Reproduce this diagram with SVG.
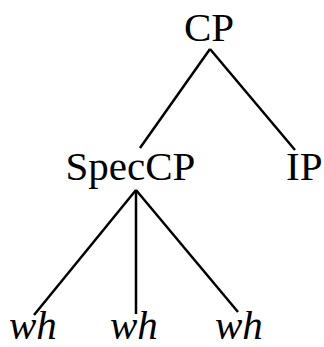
<svg xmlns="http://www.w3.org/2000/svg" width="324" height="347" viewBox="0 0 324 347">
  <style>
    .lbl { font-family: "Liberation Serif", "Times New Roman", serif; font-size: 41px; fill: #000; }
    .it { font-style: italic; }
    .edge { stroke: #000; stroke-width: 2.5; stroke-linecap: butt; fill: none; }
  </style>
  <rect width="324" height="347" fill="#fff"/>
  <g id="connectors">
    <line class="edge" x1="210" y1="49" x2="140" y2="148"/>
    <line class="edge" x1="210" y1="49" x2="295" y2="150"/>
    <line class="edge" x1="136" y1="190" x2="34" y2="315"/>
    <line class="edge" x1="136" y1="190" x2="136" y2="314"/>
    <line class="edge" x1="136" y1="190" x2="238" y2="312"/>
  </g>
  <g id="cp"><text class="lbl" x="209" y="41" text-anchor="middle">CP</text></g>
  <g id="speccp"><text class="lbl" x="130.5" y="180" text-anchor="middle">SpecCP</text></g>
  <g id="ip"><text class="lbl" x="286" y="180">IP</text></g>
  <g id="wh1"><text class="lbl it" x="9" y="339">wh</text></g>
  <g id="wh2"><text class="lbl it" x="110" y="339">wh</text></g>
  <g id="wh3"><text class="lbl it" x="215" y="339">wh</text></g>
</svg>
